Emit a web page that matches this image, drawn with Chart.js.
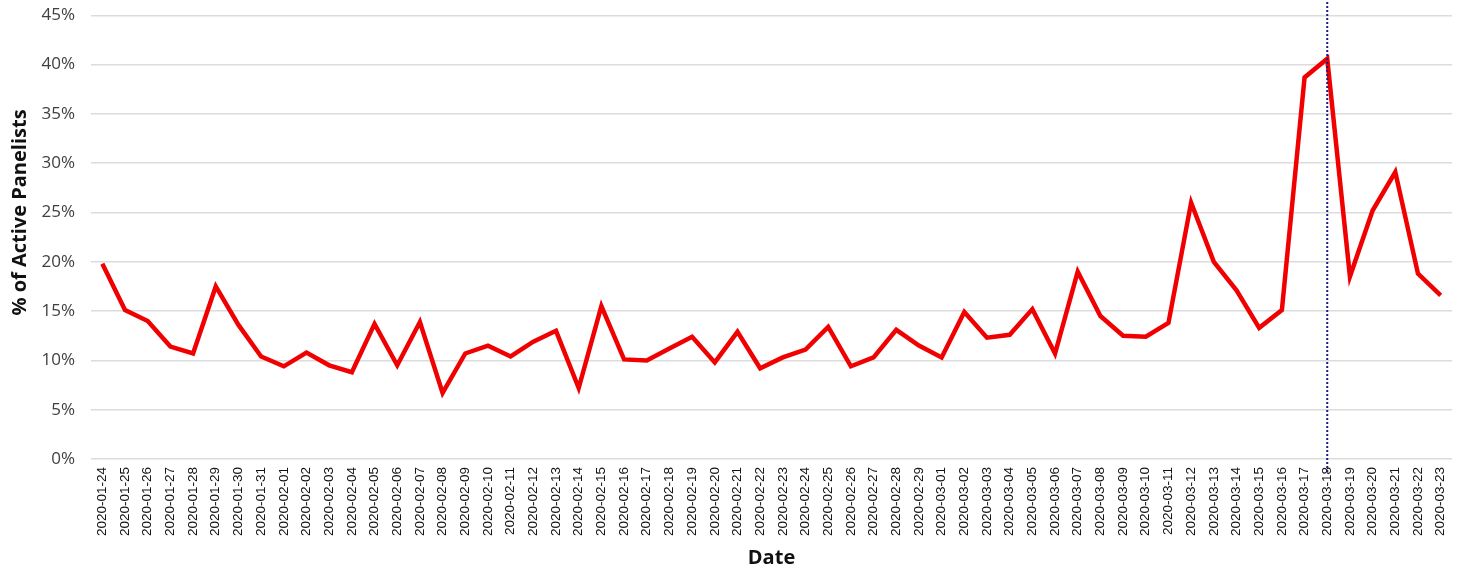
<!DOCTYPE html>
<html>
<head>
<meta charset="utf-8">
<script src="https://cdn.jsdelivr.net/npm/chart.js@4/dist/chart.umd.min.js"></script>
<style>
  html, body { margin: 0; padding: 0; background: #ffffff; overflow: hidden; }
  body { width: 1458px; height: 569px; position: relative; }
  #wrap { position: absolute; left: 0; top: -44px; width: 1458px; height: 618px; }
</style>
</head>
<body>
<div id="wrap"><canvas id="chart" width="1458" height="618"></canvas></div>
<script>
// Daily share of active panelists
const dates = [
  '2020-01-24','2020-01-25','2020-01-26','2020-01-27','2020-01-28','2020-01-29','2020-01-30','2020-01-31',
  '2020-02-01','2020-02-02','2020-02-03','2020-02-04','2020-02-05','2020-02-06','2020-02-07','2020-02-08',
  '2020-02-09','2020-02-10','2020-02-11','2020-02-12','2020-02-13','2020-02-14','2020-02-15','2020-02-16',
  '2020-02-17','2020-02-18','2020-02-19','2020-02-20','2020-02-21','2020-02-22','2020-02-23','2020-02-24',
  '2020-02-25','2020-02-26','2020-02-27','2020-02-28','2020-02-29','2020-03-01','2020-03-02','2020-03-03',
  '2020-03-04','2020-03-05','2020-03-06','2020-03-07','2020-03-08','2020-03-09','2020-03-10','2020-03-11',
  '2020-03-12','2020-03-13','2020-03-14','2020-03-15','2020-03-16','2020-03-17','2020-03-18','2020-03-19',
  '2020-03-20','2020-03-21','2020-03-22','2020-03-23'
];

const activeShare = [
  19.8, 15.1, 14.0, 11.4, 10.7, 17.5, 13.6, 10.4,
  9.4, 10.8, 9.5, 8.8, 13.7, 9.5, 13.9, 6.7,
  10.7, 11.5, 10.4, 11.9, 13.0, 7.2, 15.5, 10.1,
  10.0, 11.2, 12.4, 9.8, 12.9, 9.2, 10.3, 11.1,
  13.4, 9.4, 10.3, 13.1, 11.5, 10.3, 14.9, 12.3,
  12.6, 15.2, 10.7, 19.0, 14.5, 12.5, 12.4, 13.8,
  26.0, 20.0, 17.1, 13.3, 15.1, 38.7, 40.6, 18.5,
  25.2, 29.1, 18.8, 16.6
];

const yTicks = [0, 5, 10, 15, 20, 25, 30, 35, 40, 45, 50];
const markerDate = '2020-03-18';

// Dotted reference line at the marker date
const markerLine = {
  id: 'markerLine',
  afterDatasetsDraw(chart) {
    const x = chart.scales.x.getPixelForValue(dates.indexOf(markerDate));
    const area = chart.chartArea;
    const ctx = chart.ctx;
    ctx.save();
    ctx.strokeStyle = '#1c1c7c';
    ctx.lineWidth = 2;
    ctx.setLineDash([2, 2]);
    ctx.beginPath();
    ctx.moveTo(x, area.top);
    ctx.lineTo(x, area.bottom + 14);
    ctx.stroke();
    ctx.restore();
  }
};

new Chart(document.getElementById('chart'), {
  type: 'line',
  data: {
    labels: dates,
    datasets: [{
      data: activeShare,
      borderColor: '#f00000',
      borderWidth: 4.5,
      pointRadius: 0,
      tension: 0,
      fill: false
    }]
  },
  options: {
    responsive: false,
    animation: false,
    layout: { padding: { top: 10, left: 4, right: 6, bottom: 0 } },
    plugins: { legend: { display: false }, tooltip: { enabled: false } },
    scales: {
      x: {
        offset: true,
        grid: { display: false },
        border: { display: false },
        ticks: {
          autoSkip: false,
          minRotation: 90,
          maxRotation: 90,
          padding: 0,
          color: '#111111',
          font: { family: 'Liberation Sans', size: 13.5 }
        },
        title: {
          display: true,
          text: 'Date',
          color: '#111111',
          font: { family: 'Open Sans', size: 20, weight: 'bold' },
          padding: { top: 4, bottom: 4 }
        },
        afterFit(scale) {
          scale.height = 115;
          scale.paddingLeft = 0;
          scale.paddingRight = 0;
        }
      },
      y: {
        min: 0,
        max: 50,
        afterBuildTicks(scale) { scale.ticks = yTicks.map(v => ({ value: v })); },
        grid: { color: '#dcdcdc', lineWidth: 1.5, drawTicks: false },
        border: { display: false },
        ticks: {
          padding: 16,
          color: '#404040',
          font: { family: 'Open Sans', size: 17 },
          callback: v => v + '%'
        },
        title: {
          display: true,
          text: '% of Active Panelists',
          color: '#111111',
          font: { family: 'Open Sans', size: 20, weight: 'bold' },
          padding: { top: 4, bottom: 4 }
        },
        afterFit(scale) {
          scale.width = 87;
          scale.paddingTop = 0;
          scale.paddingBottom = 0;
        }
      }
    }
  },
  plugins: [markerLine]
});
</script>
</body>
</html>
